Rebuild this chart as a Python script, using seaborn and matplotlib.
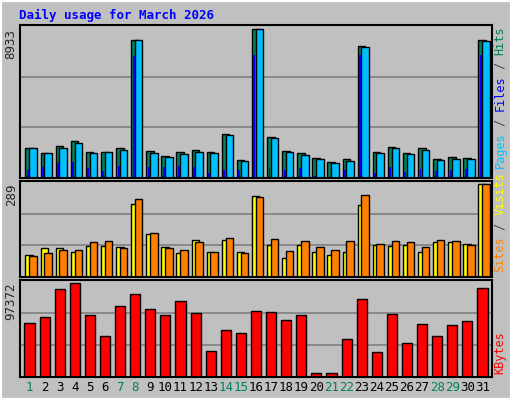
import numpy as np
import matplotlib
matplotlib.use("Agg")
import matplotlib.pyplot as plt
import seaborn as sns
import pandas as pd

days = list(range(1, 32))
weekend = [1, 7, 8, 14, 15, 21, 22, 28, 29]
hits = [1811,1509,1932,2233,1569,1569,1811,8269,1630,1328,1569,1690,1569,2656,1086,8933,
        2475,1630,1509,1207,966,1147,7907,1569,1871,1509,1811,1147,1268,1207,8269]
files = [1811,1509,1811,2110,1509,1569,1690,8269,1509,1268,1449,1569,1509,2596,1026,8933,
         2415,1569,1389,1147,906,1026,7847,1509,1811,1449,1690,1086,1147,1147,8209]
pages = [500,640,880,940,600,440,740,7300,660,660,740,640,300,500,500,7400,
         600,500,600,120,70,480,7400,300,680,380,560,430,480,560,7400]
sites = [67,89,89,79,95,95,92,226,133,92,73,114,76,114,79,252,98,58,98,79,67,79,223,
         98,95,98,79,108,108,102,289]
visits = [64,73,83,83,108,111,89,243,136,89,83,108,76,120,73,249,117,80,111,92,83,111,255,
          102,111,108,92,114,111,98,289]
kbytes = [55800,62550,90980,97372,64330,41940,73920,85650,70720,64330,78190,66460,27010,
          48330,45140,68590,67530,59000,64330,4620,4620,39800,80320,25940,65390,35540,
          54730,41940,53670,57930,92050]

sns.set_theme(style="white")
plt.rcParams['font.family'] = ['DejaVu Sans Mono']
BG = "#C0C0C0"
fig = plt.figure(figsize=(5.12, 4.0), dpi=100, facecolor=BG)
fig.patches.append(plt.Rectangle((0, 0), 1, 1, transform=fig.transFigure, fill=False,
                                 edgecolor="white", linewidth=3))
x = np.arange(31)
L, W = 0.04, 0.92
ax1 = fig.add_axes([L, 0.555, W, 0.383])
ax2 = fig.add_axes([L, 0.3075, W, 0.24])
ax3 = fig.add_axes([L, 0.0575, W, 0.2425])

def style(ax, top):
    ax.set_facecolor(BG)
    ax.set_xlim(-0.6, 30.6)
    ax.set_ylim(0, top * 1.03)
    for f in (0.34, 0.68):
        ax.axhline(top * f, color="#808080", lw=1.2, zorder=0)
    for s in ax.spines.values():
        s.set_color("black"); s.set_linewidth(1.5)
    ax.set_yticks([top]); ax.set_yticklabels([str(top)], rotation=90, va="top", fontsize=9)
    ax.tick_params(axis="y", length=0, pad=2)
    ax.set_xticks([])

ek = dict(edgecolor="black", linewidth=1)
ax1.bar(x - 0.27, hits, width=0.5, color="#00805C", align="edge", **ek)
ax1.bar(x - 0.02, files, width=0.5, color="#00C0FF", align="edge", **ek)
ax1.bar(x - 0.17, pages, width=0.13, color="#0000FF", align="edge", linewidth=0)
style(ax1, 8933)
ax2.bar(x - 0.27, sites, width=0.5, color="#FFFF00", align="edge", **ek)
ax2.bar(x - 0.02, visits, width=0.5, color="#FF8000", align="edge", **ek)
style(ax2, 289)
df = pd.DataFrame({"day": days, "kb": kbytes})
sns.barplot(data=df, x="day", y="kb", color="#FF0000", saturation=1, width=0.67,
            edgecolor="black", linewidth=1, ax=ax3)
style(ax3, 97372)
ax3.set_xlabel(""); ax3.set_ylabel("")
ax3.set_xticks(x)
ax3.set_xticklabels([str(d) for d in days], fontsize=9)
ax3.tick_params(axis="x", length=0, pad=3)
for t, d in zip(ax3.get_xticklabels(), days):
    t.set_color("#00805C" if d in weekend else "black")

fig.text(0.037, 0.962, "Daily usage for March 2026", color="#0000FF", fontsize=9,
         fontweight="bold", va="center")
FS = 8.5
STEP = 0.6 * FS / 72 * 100 / 400
def rlabel(y, parts):
    # parts listed bottom to top
    yy = y
    for txt, col in parts:
        fig.text(0.977, yy, txt, color=col, rotation=90, fontsize=FS, ha="center", va="bottom")
        yy += len(txt) * STEP
rlabel(0.58, [("Pages", "#00C0FF"), (" / ", "#404040"), ("Files", "#0000FF"), (" / ", "#404040"), ("Hits", "#00805C")])
rlabel(0.32, [("Sites", "#FF8000"), (" / ", "#404040"), ("Visits", "#FFFF00")])
rlabel(0.065, [("KBytes", "#FF0000")])
fig.savefig("out.png", dpi=100, facecolor=BG)
